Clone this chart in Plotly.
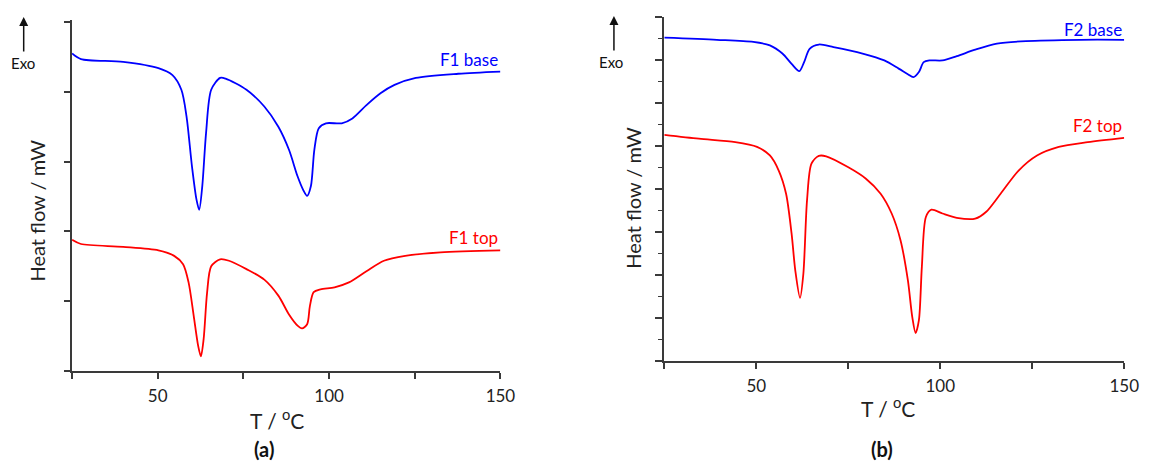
import plotly.graph_objects as go

# ---- data ----
F1_base_T = [25, 27.6, 39.9, 50.2, 54.3, 56.9, 58.4, 60.0, 61.3, 62.1, 63.0, 64.1, 65.6, 68.2, 69.8,
             75.9, 81.1, 85.2, 88.3, 90.8, 92.4, 93.6, 94.7, 95.7, 97.0, 99.1, 103.7, 106.8, 110.9,
             115.0, 119.1, 125.3, 137.7, 150]
F1_base_Q = [4.55, 4.47, 4.43, 4.34, 4.24, 4.03, 3.65, 2.93, 2.46, 2.31, 2.65, 3.41, 4.03, 4.20, 4.19,
             4.03, 3.79, 3.50, 3.17, 2.79, 2.60, 2.51, 2.65, 3.17, 3.48, 3.55, 3.55, 3.62, 3.81,
             3.98, 4.10, 4.20, 4.26, 4.29]

F1_top_T = [25, 27.6, 39.9, 50.2, 54.8, 57.4, 59.0, 60.5, 61.8, 62.6, 63.4, 64.4, 65.6, 68.2, 70.8,
            75.9, 81.1, 85.2, 88.3, 90.8, 92.1, 93.6, 94.4, 95.5, 97.5, 101.6, 105.8, 110.9, 116.0,
            122.2, 132.5, 150]
F1_top_Q = [1.88, 1.82, 1.78, 1.73, 1.65, 1.53, 1.27, 0.79, 0.36, 0.21, 0.46, 1.12, 1.50, 1.60, 1.58,
            1.46, 1.31, 1.08, 0.81, 0.65, 0.61, 0.67, 0.93, 1.13, 1.17, 1.20, 1.27, 1.43, 1.58,
            1.65, 1.70, 1.73]

F2_base_T = [25, 39.3, 49.2, 53.7, 57.1, 59.6, 61.7, 63.0, 64.5, 67.0, 71.0, 78.9, 84.8, 88.7, 91.2,
             92.7, 94.2, 95.5, 97.1, 100.6, 104.5, 109.5, 115.4, 123.3, 138.1, 150]
F2_base_Q = [7.52, 7.47, 7.42, 7.34, 7.15, 6.91, 6.74, 6.95, 7.26, 7.36, 7.30, 7.15, 6.99, 6.80, 6.67,
             6.60, 6.72, 6.95, 6.99, 6.99, 7.09, 7.24, 7.38, 7.44, 7.47, 7.47]

F2_top_T = [25, 34.4, 44.3, 50.2, 53.7, 56.1, 58.1, 59.6, 60.6, 61.9, 62.8, 63.8, 65.0, 67.0, 69.0,
            74.9, 79.8, 83.8, 86.8, 89.2, 91.2, 92.4, 93.3, 94.2, 95.0, 96.1, 97.6, 100.6, 104.5,
            109.5, 112.5, 116.4, 121.3, 126.3, 132.2, 140.1, 150]
F2_top_Q = [5.26, 5.17, 5.09, 4.98, 4.78, 4.43, 3.89, 2.96, 2.11, 1.47, 2.03, 3.74, 4.59, 4.77, 4.76,
            4.51, 4.24, 3.89, 3.43, 2.81, 1.88, 1.02, 0.65, 0.95, 2.19, 3.35, 3.52, 3.43, 3.33,
            3.31, 3.47, 3.89, 4.43, 4.78, 4.98, 5.09, 5.19]

x_tickvals = [25, 50, 75, 100, 125, 150]
x_ticktext = ["", "50", "", "100", "", "150"]

labels_a = ["F1 base", "F1 top"]
labels_b = ["F2 base", "F2 top"]
label_y_a = [4.47, 1.92]
label_y_b = [7.71, 5.47]

BLUE = "#0000ff"
RED = "#ff0000"
AX = "#3a3a3a"
FONT = "Lato"
W, H = 1157, 463

fig = go.Figure()
line_kw = dict(shape="spline", smoothing=0.8, width=1.8)
fig.add_trace(go.Scatter(x=F1_base_T, y=F1_base_Q, mode="lines", line=dict(color=BLUE, **line_kw),
                         xaxis="x", yaxis="y", showlegend=False))
fig.add_trace(go.Scatter(x=F1_top_T, y=F1_top_Q, mode="lines", line=dict(color=RED, **line_kw),
                         xaxis="x", yaxis="y", showlegend=False))
fig.add_trace(go.Scatter(x=F2_base_T, y=F2_base_Q, mode="lines", line=dict(color=BLUE, **line_kw),
                         xaxis="x2", yaxis="y2", showlegend=False))
fig.add_trace(go.Scatter(x=F2_top_T, y=F2_top_Q, mode="lines", line=dict(color=RED, **line_kw),
                         xaxis="x2", yaxis="y2", showlegend=False))

def px_x(p):
    return p / W

def px_y(p):
    return 1 - p / H

xax = dict(range=[25, 150], showline=True, linecolor=AX, linewidth=2, ticks="outside",
           ticklen=6, tickwidth=1.5, tickcolor=AX, tickvals=x_tickvals, ticktext=x_ticktext,
           ticklabelstandoff=3,
           tickfont=dict(family=FONT, size=17, color="#222"), showgrid=False, zeroline=False)
yax = dict(showline=True, linecolor=AX, linewidth=2, ticks="outside", tickwidth=1.5, tickcolor=AX,
           showticklabels=False, showgrid=False, zeroline=False)

fig.update_layout(
    width=W, height=H, autosize=False,
    margin=dict(l=0, r=0, t=0, b=0),
    paper_bgcolor="white", plot_bgcolor="white",
    font=dict(family=FONT, color="#222"),
    xaxis=dict(domain=[px_x(73), px_x(507)], anchor="y", **xax),
    yaxis=dict(domain=[px_y(371), px_y(20)], anchor="x", range=[0, 5.03], dtick=1, tick0=0,
               ticklen=6, **yax),
    xaxis2=dict(domain=[px_x(673), px_x(1139)], anchor="y2", **xax),
    yaxis2=dict(domain=[px_y(361), px_y(17)], anchor="x2", range=[0, 8], dtick=1, tick0=0,
                ticklen=7, minor=dict(ticks="outside", ticklen=4, dtick=0.5, tickcolor=AX,
                                      tickwidth=1.2), **yax),
)

ann = []
c = dict(xanchor="center", yanchor="middle", xref="paper", yref="paper", showarrow=False)
# curve labels
for t, yv, col in zip(labels_a, label_y_a, [BLUE, RED]):
    ann.append(dict(text=t, x=150, y=yv, xref="x", yref="y", xanchor="right", yanchor="middle",
                    showarrow=False, font=dict(family=FONT, size=17, color=col)))
for t, yv, col in zip(labels_b, label_y_b, [BLUE, RED]):
    ann.append(dict(text=t, x=150, y=yv, xref="x2", yref="y2", xanchor="right", yanchor="middle",
                    showarrow=False, font=dict(family=FONT, size=17, color=col)))

# axis titles
for cx, cy in [(37, 211), (641, 198)]:
    ann.append(dict(text="Heat flow / mW", x=px_x(cx), y=px_y(cy), textangle=-90,
                    font=dict(family=FONT, size=20, color="#222"), **c))
for cx, cy in [(281, 419), (900, 407)]:
    ann.append(dict(text="T / <sup>o</sup>C", x=px_x(cx), y=px_y(cy),
                    font=dict(family=FONT, size=21, color="#222"), **c))
# panel letters
for t, cx, cy in [("<b>(a)</b>", 267, 449), ("<b>(b)</b>", 894, 449)]:
    ann.append(dict(text=t, x=px_x(cx), y=px_y(cy), font=dict(family=FONT, size=20, color="#111"), **c))
# Exo arrows
for ax_x, top, bot, ex, ey in [(24, 17, 53, 23, 63), (622, 16, 52, 619, 62)]:
    ann.append(dict(text="", x=px_x(ax_x), y=px_y(top), xref="paper", yref="paper",
                    ax=0, ay=bot - top, axref="pixel", ayref="pixel", showarrow=True,
                    arrowhead=2, arrowsize=1.2, arrowwidth=1.5, arrowcolor="#111"))
    ann.append(dict(text="Exo", x=px_x(ex), y=px_y(ey), font=dict(family=FONT, size=15, color="#111"), **c))

fig.update_layout(annotations=ann)
fig.write_html("out.html", config={"displayModeBar": False},
               post_script="document.body.style.margin='0';document.body.style.overflow='hidden';")
